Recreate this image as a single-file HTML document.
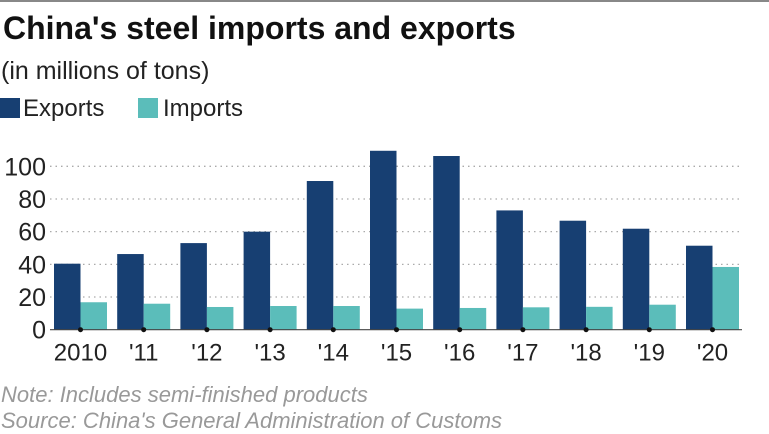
<!DOCTYPE html>
<html><head><meta charset="utf-8"><style>
body{margin:0;background:#fff;font-family:"Liberation Sans",Arial,sans-serif;}
#wrap{position:relative;width:769px;height:434px;overflow:hidden;background:#fff;border-top:2px solid #888;box-sizing:border-box;}
.t{position:absolute;white-space:nowrap;line-height:1.15;}
</style></head><body>
<div id="wrap">
<div class="t" style="left:3px;top:8px;font-size:32px;font-weight:bold;color:#111;">China's steel imports and exports</div>
<div class="t" style="left:1px;top:55px;font-size:25px;color:#222;">(in millions of tons)</div>
<div class="t" style="left:0;top:93px;font-size:24px;color:#222;"><span style="display:inline-block;width:20px;height:20px;background:#173f72;vertical-align:-2px;margin-right:3px"></span>Exports</div>
<div class="t" style="left:138px;top:93px;font-size:24px;color:#222;"><span style="display:inline-block;width:20px;height:20px;background:#5bbdba;vertical-align:-2px;margin-right:5px"></span>Imports</div>
<svg id="svg" width="769" height="434" style="position:absolute;left:0;top:-2px"></svg>
<div class="t" style="left:1px;top:380px;font-size:22px;font-style:italic;color:#999;">Note: Includes semi-finished products</div>
<div class="t" style="left:1px;top:406px;font-size:22px;font-style:italic;color:#999;">Source: China's General Administration of Customs</div>
</div>
<script>
const categories=["2010","'11","'12","'13","'14","'15","'16","'17","'18","'19","'20"];
const exportsVals=[40.4,46.3,53,60,91,109.5,106.3,73,66.7,61.8,51.4];
const importsVals=[16.8,15.9,13.9,14.5,14.5,12.9,13.3,13.7,14,15.3,38.4];
const yTicks=[0,20,40,60,80,100];
const NS="http://www.w3.org/2000/svg";
const svg=document.getElementById('svg');
const y0=329.7,pxPer=1.634,x0=54,pitch=63.2,bw=26.5;
const y=v=>y0-v*pxPer;
const x=i=>x0+i*pitch;
function mk(t,a){const e=document.createElementNS(NS,t);for(const k in a)e.setAttribute(k,a[k]);svg.appendChild(e);return e;}
yTicks.forEach(v=>{
  if(v>0){const g=mk('line',{x1:50,x2:742,y1:y(v),y2:y(v),stroke:'#aaa','stroke-width':1.3,'stroke-dasharray':'1.5,4'});
  
  }
  const t=mk('text',{x:46,y:y(v)+9,'text-anchor':'end','font-size':25,fill:'#222','font-family':'Liberation Sans, sans-serif'});
  t.textContent=v;
  
  
});
categories.forEach((c,i)=>{
  const e=mk('rect',{x:x(i),y:y(exportsVals[i]),width:bw,height:exportsVals[i]*pxPer,fill:'#173f72'});
  
  
  const m=mk('rect',{x:x(i)+bw,y:y(importsVals[i]),width:bw,height:importsVals[i]*pxPer,fill:'#5bbdba'});
  
  
});
const ax=mk('line',{x1:50,x2:742,y1:y0,y2:y0,stroke:'#444','stroke-width':1.2});


categories.forEach((c,i)=>{
  const d=mk('circle',{cx:x(i)+bw,cy:y0,r:2.5,fill:'#111'});
  
  
  const t=mk('text',{x:x(i)+bw,y:y0+31,'text-anchor':'middle','font-size':24,fill:'#222','font-family':'Liberation Sans, sans-serif'});
  t.textContent=c;
  
  
});
</script>
</body></html>
